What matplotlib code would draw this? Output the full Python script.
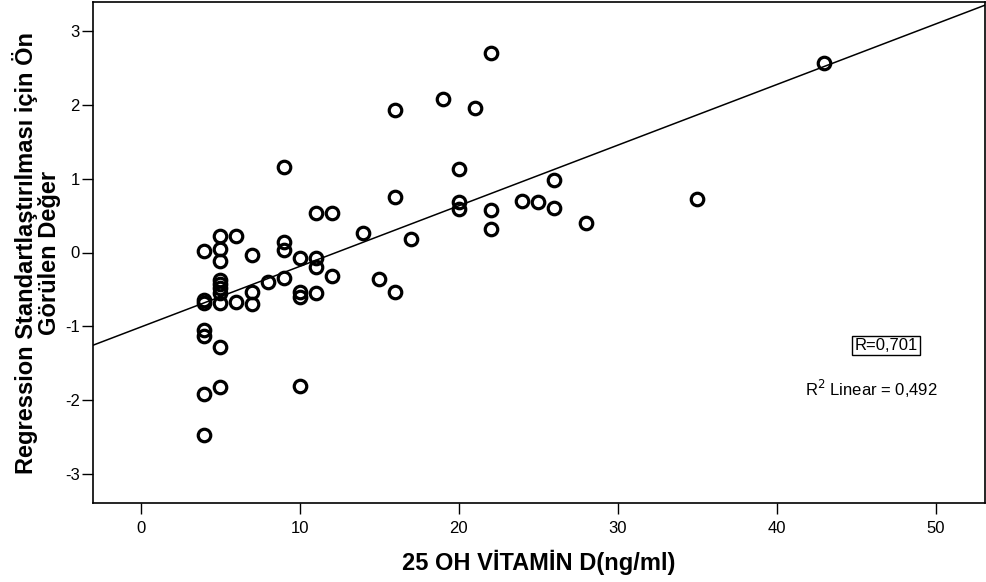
import numpy as np
import matplotlib.pyplot as plt

plt.rcParams['font.family'] = ['Liberation Sans', 'DejaVu Sans']
plt.rcParams['axes.unicode_minus'] = False

# 25 OH vitamin D (ng/ml) and standardized predicted value
vit_d = [4, 4, 4, 4, 4, 4, 4,
         5, 5, 5, 5, 5, 5, 5, 5, 5, 5,
         6, 6, 7, 7, 7, 8,
         9, 9, 9, 9,
         10, 10, 10, 10,
         11, 11, 11, 11,
         12, 12, 14, 15,
         16, 16, 16, 17, 19,
         20, 20, 20, 21,
         22, 22, 22, 24, 25, 26, 26, 28, 35, 43]
pred = [0.02, -0.65, -0.69, -1.05, -1.14, -1.92, -2.48,
        0.23, 0.05, -0.12, -0.38, -0.43, -0.48, -0.55, -0.69, -1.28, -1.82,
        0.23, -0.67, -0.03, -0.54, -0.70, -0.40,
        1.16, 0.14, 0.03, -0.34,
        -0.07, -0.54, -0.60, -1.81,
        0.54, -0.07, -0.20, -0.55,
        0.54, -0.32, 0.26, -0.36,
        1.94, 0.75, -0.54, 0.19, 2.08,
        1.13, 0.68, 0.59, 1.96,
        2.71, 0.58, 0.32, 0.70, 0.68, 0.99, 0.61, 0.40, 0.72, 2.57]

x_ticks = [0, 10, 20, 30, 40, 50]
y_ticks = [-3, -2, -1, 0, 1, 2, 3]

fig = plt.figure(figsize=(9.86, 5.82), dpi=100)
ax = fig.add_axes([93/986, 79/582, 892/986, 501/582])

ax.plot(vit_d, pred, 'o', ms=9, mfc='none', mec='black', mew=2.3)

# fit line across the whole axis
xmin, xmax = -3.0, 53.1
b, a = np.polyfit(vit_d, pred, 1)
xx = np.array([xmin, xmax])
ax.plot(xx, a + b*xx, color='black', lw=1.1)

ax.set_xlim(xmin, xmax)
ax.set_ylim(-3.4, 3.4)
ax.set_xticks(x_ticks)
ax.set_yticks(y_ticks)
ax.tick_params(direction='out', length=8, width=1, labelsize=12, pad=1.5)
ax.tick_params(axis='x', labelsize=12, pad=5)
for s in ax.spines.values():
    s.set_linewidth(1.2)

ax.set_xlabel('25 OH VİTAMİN D(ng/ml)', fontsize=17, fontweight='bold', labelpad=10)
ax.set_ylabel('Regression Standartlaştırılması için Ön\nGörülen Değer', fontsize=17,
              fontweight='bold', linespacing=0.98)
ax.yaxis.set_label_coords(-0.036, 0.5)

ax.text(0.889, 0.315, 'R=0,701', transform=ax.transAxes, fontsize=12,
        ha='center', va='center',
        bbox=dict(boxstyle='square,pad=0.12', fc='white', ec='black', lw=1))
ax.text(0.798, 0.228, 'R$^2$ Linear = 0,492', transform=ax.transAxes, fontsize=12,
        ha='left', va='center')

fig.savefig('out.png', dpi=100)
